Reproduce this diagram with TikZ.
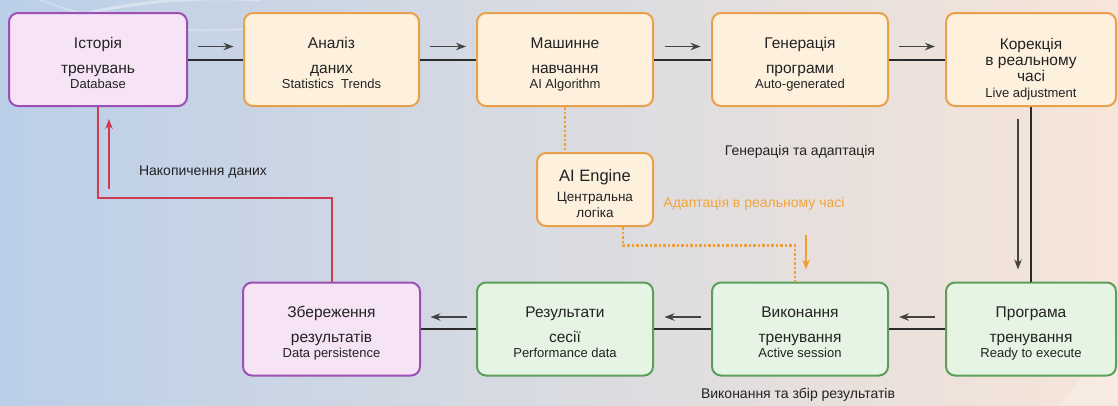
\documentclass[tikz,border=0pt]{standalone}
\usepackage{fontspec}
\setmainfont{Liberation Sans}
\usetikzlibrary{arrows.meta,calc}
\definecolor{purpleS}{HTML}{9C4FB5}
\definecolor{purpleF}{HTML}{F6E3F6}
\definecolor{orangeS}{HTML}{E9A04A}
\definecolor{orangeF}{HTML}{FDF1DE}
\definecolor{greenS}{HTML}{5C9E5C}
\definecolor{greenF}{HTML}{E6F4E3}
\definecolor{txt}{HTML}{222222}
\definecolor{lineC}{HTML}{2B2B2B}
\definecolor{arrC}{HTML}{444444}
\definecolor{redC}{HTML}{D03A50}
\definecolor{orangeD}{HTML}{F0A030}
\definecolor{orangeT}{HTML}{F0A53A}
\definecolor{bgL}{HTML}{BBCFE8}
\definecolor{bgM}{HTML}{D9DBE1}
\definecolor{bgR}{HTML}{F7E5D8}
\begin{document}
\begin{tikzpicture}[x=1pt,y=-1pt,
  boxbase/.style={rounded corners=9pt, line width=2pt, inner sep=0pt, minimum height=93pt, minimum width=176pt},
  pbox/.style={boxbase, draw=purpleS, fill=purpleF},
  obox/.style={boxbase, draw=orangeS, fill=orangeF},
  gbox/.style={boxbase, draw=greenS, fill=greenF},
  ttl/.style={font=\fontsize{15.5}{18}\selectfont, text=txt, anchor=base, inner sep=0pt},
  subt/.style={font=\fontsize{13}{15}\selectfont, text=txt, anchor=base, inner sep=0pt},
  lab/.style={font=\fontsize{14}{16}\selectfont, text=txt, inner sep=0pt},
  conn/.style={draw=lineC, line width=2pt},
  sarrow/.style={draw=arrC, line width=1.5pt, -{Stealth[length=10pt,width=7.5pt]}},
  redline/.style={draw=redC, line width=2pt},
  redarrow/.style={draw=redC, line width=1.5pt, -{Stealth[length=10pt,width=7.5pt]}},
  odot/.style={draw=orangeD, line width=2.5pt, dash pattern=on 2.5pt off 2pt},
  oarrow/.style={draw=orangeD, line width=1.5pt, -{Stealth[length=10pt,width=7.5pt]}}
]
\useasboundingbox (0,0) rectangle (1118,405);
\shade[left color=bgL, right color=bgR, middle color=bgM] (0,0) rectangle (1118,405);
\draw[white, opacity=0.35, line width=3pt] (10,40) .. controls (80,5) and (180,-5) .. (260,0);
\draw[white, opacity=0.25, line width=2pt] (40,0) .. controls (120,30) and (220,40) .. (300,20);
\fill[white, opacity=0.25] (1060,405) -- (1118,330) -- (1118,405) -- cycle;

% top row
\node[pbox, minimum width=178pt] (b1) at (98,59.5) {};
\node[obox, minimum width=175pt] (b2) at (331.5,59.5) {};
\node[obox] (b3) at (565,59.5) {};
\node[obox] (b4) at (800,59.5) {};
\node[obox, minimum width=170pt] (b5) at (1031,59.5) {};
% bottom row
\node[pbox, minimum width=177pt] (b6) at (331.5,329) {};
\node[gbox] (b7) at (565,329) {};
\node[gbox] (b8) at (800,329) {};
\node[gbox, minimum width=170pt] (b9) at (1031,329) {};
% AI engine
\node[obox, minimum width=116pt, minimum height=73pt] (ai) at (595,189.5) {};

% texts
\node[ttl] (b1a) at (98,48.5) {Історія};
\node[ttl] (b1b) at (98,73) {тренувань};
\node[subt] (b1c) at (98,88) {Database};
\node[ttl] (b2a) at (331.5,48.5) {Аналіз};
\node[ttl] (b2b) at (331.5,73) {даних};
\node[subt] (b2c) at (331.5,88) {Statistics~ Trends};
\node[ttl] (b3a) at (565,48.5) {Машинне};
\node[ttl] (b3b) at (565,73) {навчання};
\node[subt] (b3c) at (565,88) {AI Algorithm};
\node[ttl] (b4a) at (800,48.5) {Генерація};
\node[ttl] (b4b) at (800,73) {програми};
\node[subt] (b4c) at (800,88) {Auto-generated};
\node[ttl] (b5a) at (1031,49) {Корекція};
\node[ttl] (b5b) at (1031,65) {в реальному};
\node[ttl] (b5c) at (1031,81) {часі};
\node[subt] (b5d) at (1031,97) {Live adjustment};
\node[ttl] (b6a) at (331.5,317.5) {Збереження};
\node[ttl] (b6b) at (331.5,342) {результатів};
\node[subt] (b6c) at (331.5,357) {Data persistence};
\node[ttl] (b7a) at (565,317.5) {Результати};
\node[ttl] (b7b) at (565,342) {сесії};
\node[subt] (b7c) at (565,357) {Performance data};
\node[ttl] (b8a) at (800,317.5) {Виконання};
\node[ttl] (b8b) at (800,342) {тренування};
\node[subt] (b8c) at (800,357) {Active session};
\node[ttl] (b9a) at (1031,317.5) {Програма};
\node[ttl] (b9b) at (1031,342) {тренування};
\node[subt] (b9c) at (1031,357) {Ready to execute};
\node[ttl, font=\fontsize{16.5}{19}\selectfont] (aia) at (595,181.5) {AI Engine};
\node[subt, font=\fontsize{13.5}{16}\selectfont] (aib) at (595,201) {Центральна};
\node[subt, font=\fontsize{13.5}{16}\selectfont] (aic) at (595,217) {логіка};

% labels
\node[lab] (l1) at (203,172) {Накопичення даних};
\node[lab] (l2) at (800,152) {Генерація та адаптація};
\node[lab, text=orangeT] (l3) at (754,204) {Адаптація в реальному часі};
\node[lab] (l4) at (798,395) {Виконання та збір результатів};

% top connectors
\draw[conn] (b1) -- (b2);
\draw[conn] (b2) -- (b3);
\draw[conn] (b3) -- (b4);
\draw[conn] (b4) -- (b5);
\draw[sarrow] ($(b1.east)!0.5!(b2.west)+(-18,-13)$) -- ++(36,0);
\draw[sarrow] ($(b2.east)!0.5!(b3.west)+(-18,-13)$) -- ++(36,0);
\draw[sarrow] ($(b3.east)!0.5!(b4.west)+(-18,-13)$) -- ++(36,0);
\draw[sarrow] ($(b4.east)!0.5!(b5.west)+(-18,-13)$) -- ++(36,0);
% right vertical
\draw[conn] (b5) -- (b9);
\draw[sarrow] ($(b5.south)+(-13,12)$) -- ($(b9.north)+(-13,-12)$);
% bottom connectors
\draw[conn] (b9) -- (b8);
\draw[conn] (b8) -- (b7);
\draw[conn] (b7) -- (b6);
\draw[sarrow] ($(b9.west)!0.5!(b8.east)+(18,-12)$) -- ++(-36,0);
\draw[sarrow] ($(b8.west)!0.5!(b7.east)+(18,-12)$) -- ++(-36,0);
\draw[sarrow] ($(b7.west)!0.5!(b6.east)+(18,-12)$) -- ++(-36,0);
% red feedback
\coordinate (rj) at (0,198);
\draw[redline] (b6.north) |- (b1.south |- rj) -- (b1.south);
\draw[redarrow] ($(b1.south)+(11,82)$) -- ($(b1.south)+(11,12)$);
% orange dotted
\draw[odot] (b3.south) -- (b3.south |- ai.north);
\coordinate (aiout) at ($(ai.south)+(28,0)$);
\draw[odot] (aiout) |- ($(b8.north)+(-5,-36)$) -- ($(b8.north)+(-5,0)$);
\draw[oarrow] ($(b8.north)+(6,-47)$) -- ($(b8.north)+(6,-12)$);
\end{tikzpicture}
\end{document}
